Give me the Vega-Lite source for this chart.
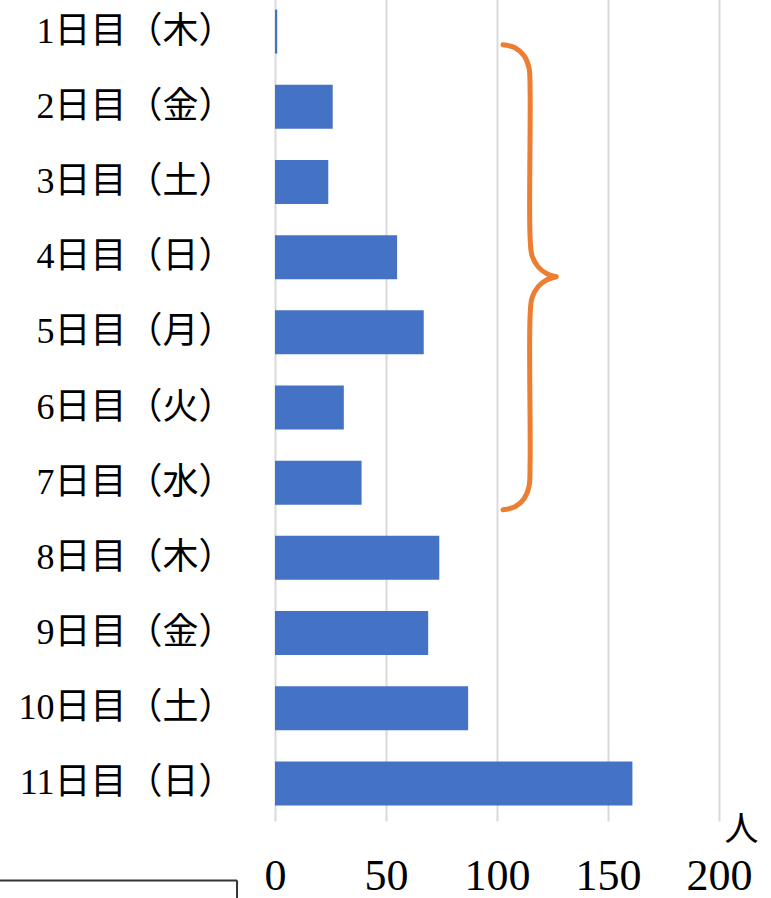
{
  "$schema": "https://vega.github.io/schema/vega-lite/v6.json",
  "width": 444,
  "height": 827,
  "autosize": {"type": "none"},
  "padding": {"left": 275, "top": -6, "right": 52, "bottom": 77},
  "background": "white",
  "config": {"view": {"stroke": null}},
  "datasets": {
    "days": [
      {"day": "1日目（木）", "people": 1},
      {"day": "2日目（金）", "people": 26},
      {"day": "3日目（土）", "people": 24},
      {"day": "4日目（日）", "people": 55},
      {"day": "5日目（月）", "people": 67},
      {"day": "6日目（火）", "people": 31},
      {"day": "7日目（水）", "people": 39},
      {"day": "8日目（木）", "people": 74},
      {"day": "9日目（金）", "people": 69},
      {"day": "10日目（土）", "people": 87},
      {"day": "11日目（日）", "people": 161}
    ],
    "brace": [
      {"seg": "a", "o": 1, "bx": 102.7, "by": 1.176},
      {"seg": "a", "o": 2, "bx": 108.1, "by": 1.215},
      {"seg": "a", "o": 3, "bx": 112.2, "by": 1.322},
      {"seg": "a", "o": 4, "bx": 114.4, "by": 1.481},
      {"seg": "a", "o": 5, "bx": 114.9, "by": 1.774},
      {"seg": "a", "o": 6, "bx": 114.9, "by": 3.729},
      {"seg": "a", "o": 7, "bx": 115.8, "by": 3.981},
      {"seg": "a", "o": 8, "bx": 118.5, "by": 4.128},
      {"seg": "a", "o": 9, "bx": 122.5, "by": 4.221},
      {"seg": "a", "o": 10, "bx": 126.6, "by": 4.261},
      {"seg": "b", "o": 1, "bx": 126.6, "by": 4.261},
      {"seg": "b", "o": 2, "bx": 122.5, "by": 4.301},
      {"seg": "b", "o": 3, "bx": 118.5, "by": 4.394},
      {"seg": "b", "o": 4, "bx": 115.8, "by": 4.540},
      {"seg": "b", "o": 5, "bx": 114.9, "by": 4.793},
      {"seg": "b", "o": 6, "bx": 114.9, "by": 6.735},
      {"seg": "b", "o": 7, "bx": 114.4, "by": 7.054},
      {"seg": "b", "o": 8, "bx": 112.2, "by": 7.213},
      {"seg": "b", "o": 9, "bx": 108.1, "by": 7.320},
      {"seg": "b", "o": 10, "bx": 102.7, "by": 7.360}
    ],
    "box": [
      {"x1": -124, "x2": -17.1, "y1": 12.29, "y2": 12.29},
      {"x1": -17.1, "x2": -17.1, "y1": 12.29, "y2": 12.7}
    ]
  },
  "resolve": {"scale": {"y": "independent"}},
  "layer": [
    {
      "data": {"name": "days"},
      "mark": {"type": "bar", "color": "#4472C4"},
      "encoding": {
        "y": {
          "field": "day", "type": "nominal", "sort": null,
          "scale": {"paddingInner": 0.415, "paddingOuter": 0.2075},
          "axis": {
            "title": null, "domain": false, "ticks": false,
            "labelFont": "Liberation Serif, Noto Sans CJK JP",
            "labelFontSize": 36, "labelColor": "#000000",
            "labelPadding": 41, "labelLimit": 400
          }
        },
        "x": {
          "field": "people", "type": "quantitative",
          "scale": {"domain": [0, 200], "nice": false},
          "axis": {
            "values": [0, 50, 100, 150, 200],
            "domain": false, "ticks": false,
            "grid": true, "gridColor": "#D9D9D9", "gridWidth": 2,
            "labelFont": "Liberation Serif", "labelFontSize": 44,
            "labelColor": "#000000", "labelPadding": 33,
            "labelFlush": false,
            "title": "人", "titleFont": "Noto Sans CJK JP", "titleFontSize": 34,
            "titleFontWeight": "normal", "titleColor": "#000000",
            "titleAnchor": "start", "titleAlign": "center", "titleBaseline": "middle",
            "titleX": 466, "titleY": 9
          }
        }
      }
    },
    {
      "data": {"name": "brace"},
      "mark": {"type": "line", "color": "#ED7D31", "strokeWidth": 5, "interpolate": "catmull-rom", "strokeCap": "round"},
      "encoding": {
        "x": {"field": "bx", "type": "quantitative", "scale": {"domain": [0, 200], "nice": false}},
        "y": {"field": "by", "type": "quantitative", "scale": {"domain": [0.5, 11.5], "reverse": true, "nice": false, "zero": false}, "axis": null},
        "detail": {"field": "seg"},
        "order": {"field": "o"}
      }
    },
    {
      "data": {"name": "box"},
      "mark": {"type": "rule", "color": "#333333", "strokeWidth": 2},
      "encoding": {
        "x": {"field": "x1", "type": "quantitative", "scale": {"domain": [0, 200], "nice": false}},
        "x2": {"field": "x2"},
        "y": {"field": "y1", "type": "quantitative", "scale": {"domain": [0.5, 11.5], "reverse": true, "nice": false, "zero": false}, "axis": null},
        "y2": {"field": "y2"}
      }
    }
  ]
}
